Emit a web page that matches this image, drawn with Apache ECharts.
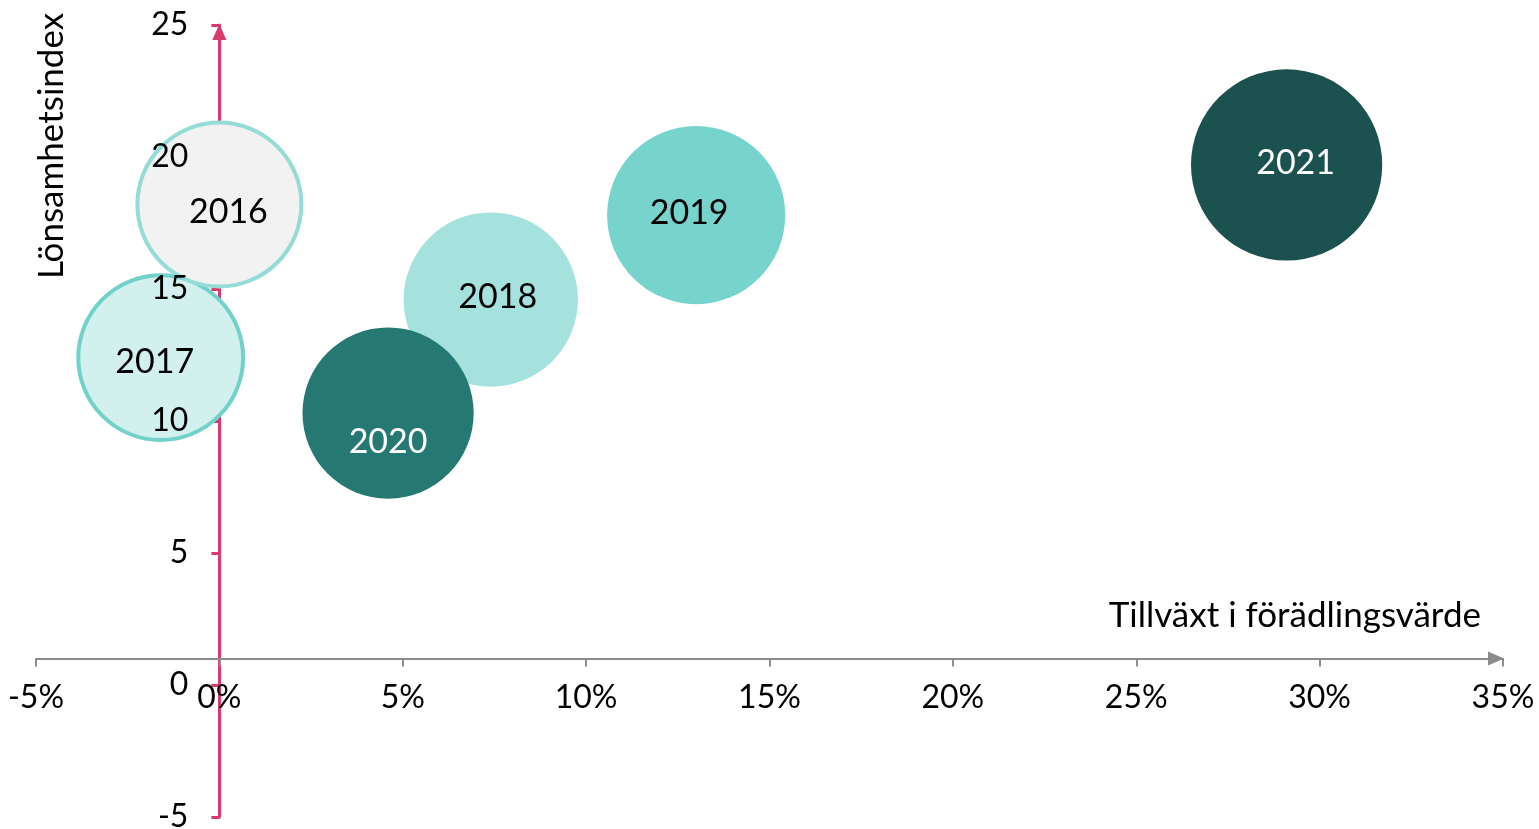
<!DOCTYPE html>
<html>
<head>
<meta charset="utf-8">
<title>Lönsamhetsindex</title>
<script src="https://cdn.jsdelivr.net/npm/echarts@6/dist/echarts.min.js"></script>
<style>
  html, body { margin: 0; padding: 0; background: #fff; }
  #main { width: 1539px; height: 829px; }
</style>
</head>
<body>
<div id="main"></div>
<script>
// data
var years  = ['2016', '2017', '2018', '2019', '2020', '2021'];
var growth = [0.0, -1.6, 7.4, 13.0, 4.6, 29.1];      // tillväxt i förädlingsvärde, %
var index  = [18.2, 12.4, 14.6, 17.8, 10.3, 19.7];   // lönsamhetsindex
var weight = [100, 101, 113, 118, 109, 136];         // bubble size (area)

// styles
var fills   = ['#f2f2f2', '#d2f0ed', '#a5e2de', '#76d4cd', '#267873', '#1b524f'];
var borders = ['#95dcd6', '#72d2ca', null, null, null, null];
var textCol = ['#000', '#000', '#000', '#000', '#fff', '#fff'];
var offsets = [[9, 8], [-6, 4], [7, -3], [-7, -2], [0, 29], [9, -2]];

var FONT = 'Lato, "Noto Sans", sans-serif';
var PINK = '#d93a6c';
var GREY = '#8c8c8c';

// grid box and axis ranges
var W = 1539, H = 829;
var G = { left: 36, right: 36, top: 25, bottom: 12 };
var X_MIN = -5, X_MAX = 35, Y_MIN = -5, Y_MAX = 25;
var X_CROSS = 1;   // the horizontal axis crosses the vertical one at y = 1

var gw = W - G.left - G.right, gh = H - G.top - G.bottom;
// axes are moved inside the grid (offset < 0) to where they cross
var yAxisShift = -gw * (0 - X_MIN) / (X_MAX - X_MIN);
var xAxisShift = -gh * (X_CROSS - Y_MIN) / (Y_MAX - Y_MIN);

var chart = echarts.init(document.getElementById('main'));

// larger bubbles are drawn first, as in the original
var order = years.map(function (y, i) { return i; })
    .sort(function (a, b) { return weight[b] - weight[a]; });

var points = order.map(function (i) {
    return {
        name: years[i],
        value: [growth[i], index[i], weight[i]],
        itemStyle: {
            color: fills[i],
            borderColor: borders[i] || fills[i],
            borderWidth: borders[i] ? 4 : 0,
            opacity: 1
        },
        label: { color: textCol[i], offset: offsets[i] }
    };
});

var option = {
    animation: false,
    grid: { left: G.left, right: G.right, top: G.top, bottom: G.bottom, containLabel: false, outerBoundsMode: 'none' },
    xAxis: {
        type: 'value', position: 'bottom', offset: xAxisShift,
        min: X_MIN, max: X_MAX, interval: 5,
        axisLine: {
            onZero: false,
            lineStyle: { color: GREY, width: 2 },
            symbol: ['none', 'triangle'], symbolSize: [14, 16], symbolOffset: [0, -7]
        },
        axisTick: { show: true, length: 8, lineStyle: { color: GREY, width: 2 } },
        axisLabel: { formatter: '{value}%', color: '#000', fontSize: 32, fontFamily: FONT, margin: 23 },
        splitLine: { show: false }
    },
    yAxis: [
        { // the pink line, behind the bubbles
            type: 'value', position: 'left', offset: yAxisShift,
            min: Y_MIN, max: Y_MAX, interval: 5, z: 0,
            axisLine: {
                onZero: false,
                lineStyle: { color: PINK, width: 3 },
                symbol: ['none', 'triangle'], symbolSize: [14, 16], symbolOffset: [0, -7]
            },
            axisTick: { show: true, length: 8, lineStyle: { color: PINK, width: 3 } },
            axisLabel: { show: false },
            splitLine: { show: false }
        },
        { // tick labels, above the bubbles
            type: 'value', position: 'left', offset: yAxisShift,
            min: Y_MIN, max: Y_MAX, interval: 5, z: 10,
            axisLine: { show: false, onZero: false },
            axisTick: { show: false },
            axisLabel: { color: '#000', fontSize: 32, fontFamily: FONT, margin: 31 },
            splitLine: { show: false }
        }
    ],
    graphic: [
        {
            type: 'text', x: 52, y: 146, rotation: Math.PI / 2,
            style: { text: 'Lönsamhetsindex', font: '35px ' + FONT, fill: '#000',
                     align: 'center', verticalAlign: 'middle' }
        },
        {
            type: 'text', x: 1481, y: 616,
            style: { text: 'Tillväxt i förädlingsvärde', font: '35px ' + FONT, fill: '#000',
                     align: 'right', verticalAlign: 'middle' }
        }
    ],
    series: [{
        type: 'scatter',
        yAxisIndex: 0,
        data: points,
        symbolSize: function (v) { return 164 * Math.sqrt(v[2] / 100); },
        label: {
            show: true, position: 'inside',
            formatter: '{b}', fontSize: 34, fontFamily: FONT
        },
        emphasis: { disabled: true }
    }]
};

chart.setOption(option);
</script>
</body>
</html>
